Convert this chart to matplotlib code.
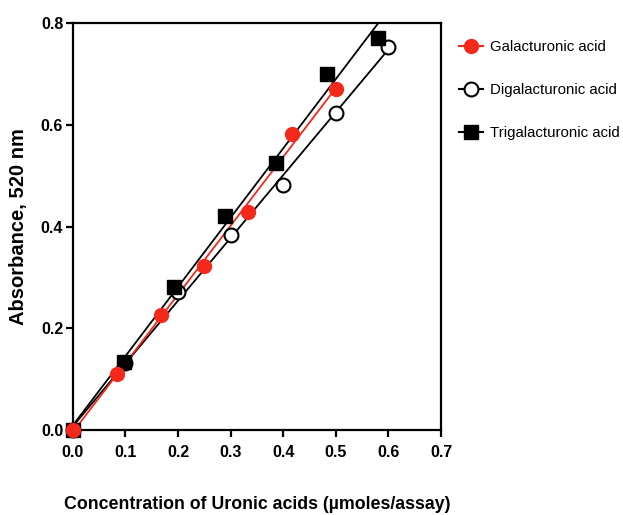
import numpy as np
import matplotlib.pyplot as plt

plt.rcParams['font.family'] = ['Liberation Sans', 'DejaVu Sans']

# data
gal_x = [0.0, 0.0833, 0.1667, 0.25, 0.3333, 0.4167, 0.5]
gal_y = [0.0, 0.110, 0.226, 0.323, 0.429, 0.582, 0.670]

digal_x = [0.0, 0.1, 0.2, 0.3, 0.4, 0.5, 0.6]
digal_y = [0.0, 0.131, 0.271, 0.384, 0.482, 0.624, 0.754]

trigal_x = [0.0, 0.097, 0.193, 0.29, 0.387, 0.483, 0.58]
trigal_y = [0.0, 0.134, 0.281, 0.420, 0.525, 0.700, 0.770]

labels = ['Galacturonic acid', 'Digalacturonic acid', 'Trigalacturonic acid']
xticks = [0.0, 0.1, 0.2, 0.3, 0.4, 0.5, 0.6, 0.7]
yticks = [0.0, 0.2, 0.4, 0.6, 0.8]

red = '#f5281c'

fig = plt.figure(figsize=(6.23, 5.15), dpi=100)
ax = fig.add_axes([0.117, 0.165, 0.591, 0.790])


def fit_line(x, y):
    k, b = np.polyfit(x, y, 1)
    xs = np.array([min(x), max(x)])
    return xs, k * xs + b


# regression lines
for x, y, c in [(digal_x, digal_y, 'black'), (trigal_x, trigal_y, 'black'),
                (gal_x, gal_y, red)]:
    xs, ys = fit_line(x, y)
    ax.plot(xs, ys, color=c, lw=1.3, zorder=2)

ax.plot(digal_x, digal_y, 'o', ms=10, mfc='white', mec='black', mew=1.5,
        zorder=3, clip_on=False)
ax.plot(trigal_x, trigal_y, 's', ms=10.5, color='black', zorder=4, clip_on=False)
ax.plot(gal_x, gal_y, 'o', ms=10, color=red, zorder=5, clip_on=False)

# legend handles
h1, = ax.plot([], [], 'o-', color=red, ms=10, lw=1.5)
h2, = ax.plot([], [], 'o-', color='black', mfc='white', ms=10, mew=1.5, lw=1.5)
h3, = ax.plot([], [], 's-', color='black', ms=10.5, lw=1.5)
ax.legend([h1, h2, h3], labels, loc='upper left', bbox_to_anchor=(1.02, 0.985),
          frameon=False, fontsize=10.8, handlelength=1.6, handletextpad=0.5,
          labelspacing=1.95, borderaxespad=0.3)

ax.set_xlim(0, 0.7)
ax.set_ylim(0, 0.8)
ax.set_xticks(xticks)
ax.set_yticks(yticks)
ax.set_xticklabels(['%.1f' % t for t in xticks], fontweight='bold', fontsize=11.5)
ax.set_yticklabels(['%.1f' % t for t in yticks], fontweight='bold', fontsize=11.5)

for s in ax.spines.values():
    s.set_linewidth(1.6)
ax.tick_params(width=1.6, length=5, direction='out')
ax.tick_params(axis='x', pad=6)
ax.tick_params(axis='y', pad=2)

ax.set_ylabel('Absorbance, 520 nm', fontweight='bold', fontsize=14.5, labelpad=9)
ax.set_xlabel('Concentration of Uronic acids (µmoles/assay)', fontweight='bold',
              fontsize=12.8, labelpad=26)

fig.savefig('out.png', dpi=100)
